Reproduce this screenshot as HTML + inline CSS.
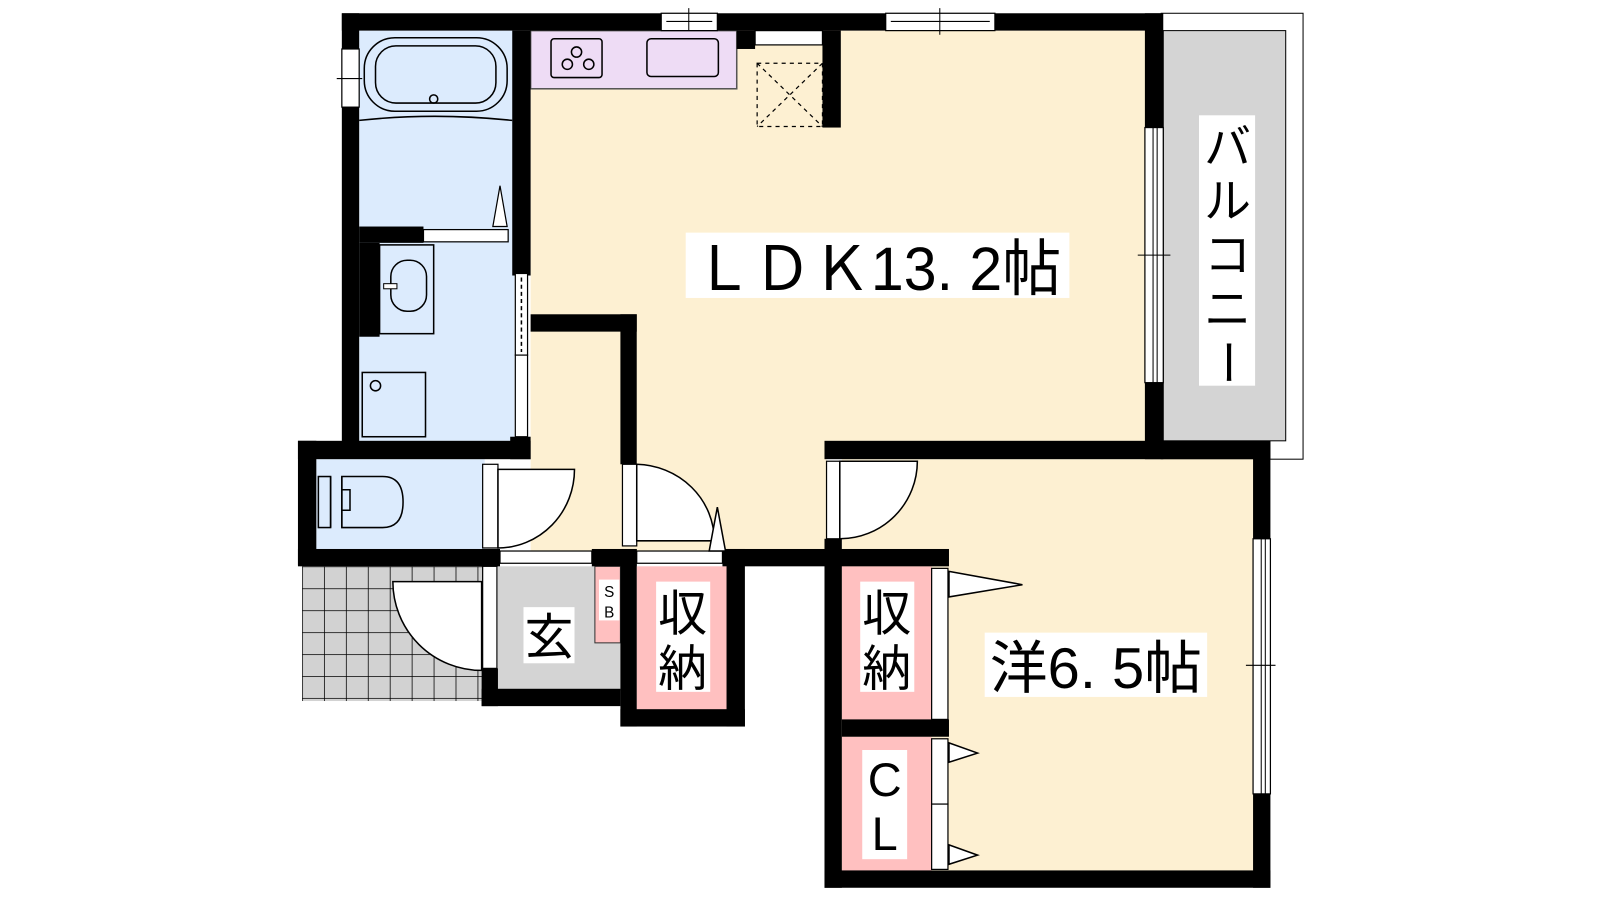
<!DOCTYPE html>
<html><head><meta charset="utf-8"><style>html,body{margin:0;padding:0;background:#fff;width:1600px;height:900px;overflow:hidden}svg{display:block}text{font-family:"Liberation Sans","Noto Sans CJK JP",sans-serif;fill:#000}</style></head><body>
<svg width="1600" height="900" viewBox="0 0 1568 882" xmlns="http://www.w3.org/2000/svg">
<defs><pattern id="tile" x="296" y="555" width="21.5" height="21.5" patternUnits="userSpaceOnUse"><rect width="21.5" height="21.5" fill="#d2d2d2"/><path d="M0 0H21.5M0 0V21.5" stroke="#000" stroke-width="1.5"/></pattern></defs>
<rect x="1138" y="13" width="139" height="437" fill="#fff" stroke="#000" stroke-width="1"/>
<rect x="1140" y="30" width="120" height="402" fill="#d4d4d4" stroke="#000" stroke-width="1"/>
<rect x="520" y="30" width="605" height="405" fill="#fdf0d2"/>
<rect x="520" y="320" width="92" height="222" fill="#fdf0d2"/>
<rect x="610" y="430" width="200" height="112" fill="#fdf0d2"/>
<rect x="825" y="450" width="405" height="405" fill="#fdf0d2"/>
<rect x="352" y="30" width="152" height="405" fill="#dcebfd"/>
<rect x="310" y="450" width="165" height="90" fill="#dcebfd"/>
<rect x="520" y="30" width="202" height="57" fill="#eedcf5" stroke="#555" stroke-width="1.5"/>
<rect x="540" y="38" width="50" height="38" rx="3" fill="none" stroke="#000" stroke-width="1.5"/>
<circle cx="565" cy="51" r="5" fill="none" stroke="#000" stroke-width="1.5"/><circle cx="556" cy="63" r="5" fill="none" stroke="#000" stroke-width="1.5"/><circle cx="577" cy="63" r="5" fill="none" stroke="#000" stroke-width="1.5"/>
<rect x="634" y="38" width="70" height="37" rx="4" fill="none" stroke="#000" stroke-width="1.5"/>
<rect x="742" y="62" width="64" height="62" fill="none" stroke="#000" stroke-width="1.2" stroke-dasharray="4 4"/>
<path d="M742 62L806 124M806 62L742 124" stroke="#000" stroke-width="1.2" stroke-dasharray="4 4"/>
<rect x="296" y="555" width="178" height="132" fill="url(#tile)"/>
<rect x="488" y="555" width="122" height="122" fill="#d4d4d4"/>
<rect x="583" y="555" width="25" height="75" fill="#ffc0c0" stroke="#333" stroke-width="1"/>
<rect x="624" y="555" width="90" height="142" fill="#ffc0c0"/>
<rect x="825" y="555" width="88" height="152" fill="#ffc0c0"/>
<rect x="825" y="722" width="88" height="133" fill="#ffc0c0"/>
<rect x="357" y="37" width="140" height="72" rx="30" fill="none" stroke="#000" stroke-width="1.5"/>
<rect x="368" y="45" width="118" height="56" rx="20" fill="none" stroke="#000" stroke-width="1.5"/>
<circle cx="425" cy="97" r="4" fill="none" stroke="#000" stroke-width="1.5"/>
<path d="M352 118Q425 110 502 118" fill="none" stroke="#000" stroke-width="1.5"/>
<path d="M483 222L490 182L497 222Z" fill="#fff" stroke="#000" stroke-width="1.2"/>
<rect x="372" y="240" width="53" height="87" fill="none" stroke="#000" stroke-width="1.5"/>
<rect x="383" y="255" width="35" height="50" rx="16" fill="none" stroke="#000" stroke-width="1.5"/>
<rect x="376" y="278" width="13" height="5" fill="#fff" stroke="#000" stroke-width="1"/>
<rect x="355" y="365" width="62" height="63" fill="none" stroke="#000" stroke-width="1.5"/>
<circle cx="368" cy="378" r="5" fill="none" stroke="#000" stroke-width="1.5"/>
<path d="M335 467H375Q395 467 395 492Q395 517 375 517H335Z" fill="none" stroke="#000" stroke-width="1.5"/>
<rect x="312" y="467" width="12" height="50" fill="none" stroke="#000" stroke-width="1.5"/>
<path d="M324 467V517M335 467V517M335 480H343V500H335" fill="none" stroke="#000" stroke-width="1.5"/>
<g fill="#000">
<rect x="335" y="13" width="803" height="17"/>
<rect x="335" y="13" width="17" height="420"/>
<rect x="502" y="30" width="18" height="240"/>
<rect x="352" y="222" width="63" height="16"/>
<rect x="352" y="238" width="20" height="92"/>
<rect x="500" y="428" width="20" height="22"/>
<rect x="292" y="432" width="228" height="18"/>
<rect x="292" y="432" width="18" height="122"/>
<rect x="292" y="538" width="198" height="17"/>
<rect x="520" y="308" width="104" height="17"/>
<rect x="608" y="308" width="16" height="147"/>
<rect x="580" y="538" width="44" height="17"/>
<rect x="608" y="538" width="16" height="174"/>
<rect x="712" y="538" width="18" height="174"/>
<rect x="608" y="695" width="122" height="17"/>
<rect x="708" y="538" width="222" height="17"/>
<rect x="472" y="538" width="16" height="17"/>
<rect x="472" y="655" width="16" height="37"/>
<rect x="472" y="675" width="136" height="17"/>
<rect x="722" y="30" width="18" height="18"/>
<rect x="806" y="30" width="18" height="95"/>
<rect x="1122" y="13" width="18" height="112"/>
<rect x="1122" y="375" width="18" height="75"/>
<rect x="808" y="432" width="437" height="18"/>
<rect x="808" y="528" width="17" height="342"/>
<rect x="1228" y="432" width="17" height="96"/>
<rect x="1228" y="778" width="17" height="92"/>
<rect x="808" y="853" width="437" height="17"/>
<rect x="825" y="705" width="105" height="17"/>
</g>
<g fill="#fff" stroke="#000" stroke-width="1.2">
<rect x="648" y="13" width="55" height="17"/><rect x="868" y="13" width="107" height="17"/>
<rect x="740" y="30" width="66" height="14"/>
<rect x="335" y="48" width="17" height="57"/>
<rect x="1122" y="125" width="18" height="250"/>
<rect x="1228" y="528" width="17" height="250"/>
<rect x="415" y="225" width="83" height="12"/>
<rect x="505" y="268" width="12" height="80"/><rect x="505" y="348" width="12" height="80"/>
<rect x="473" y="455" width="15" height="82"/>
<rect x="490" y="540" width="90" height="12"/>
<rect x="624" y="540" width="84" height="12"/>
<rect x="610" y="455" width="14" height="80"/>
<rect x="473" y="555" width="14" height="100"/>
<rect x="810" y="452" width="13" height="76"/>
<rect x="913" y="557" width="16" height="148"/>
<rect x="913" y="724" width="16" height="64"/><rect x="913" y="788" width="16" height="64"/>
</g>
<path d="M511 272V345" stroke="#000" stroke-width="1.5" stroke-dasharray="4 3"/>
<path d="M1130 125V375M1134 125V375M1236 528V778M1240 528V778M653 21H698M873 21H970" stroke="#000" stroke-width="1"/>
<path d="M675 8V30M921 8V34M1115 250H1147M1221 652H1250M330 77H355" stroke="#000" stroke-width="1"/>
<g fill="#fff" stroke="#000" stroke-width="1.5">
<path d="M488 537V460H563A75 77 0 0 1 488 537Z"/>
<path d="M624 530V455A78 75 0 0 1 700 530Z"/>
<path d="M472 570H385A87 87 0 0 0 472 657Z"/>
<path d="M823 528V452H899A76 76 0 0 1 823 528Z"/>
<path d="M695 540L703 497L711 540Z"/>
<path d="M930 560L1002 573L930 585Z"/>
<path d="M930 728L958 738L930 747Z"/>
<path d="M930 828L958 838L930 847Z"/>
</g>
<rect x="672" y="228" width="376" height="64" fill="#fff"/>
<text x="860" y="284" font-size="60" text-anchor="middle" textLength="360" lengthAdjust="spacingAndGlyphs">ＬＤＫ13. 2帖</text>
<rect x="1175" y="113" width="55" height="265" fill="#fff"/>
<g font-size="46" text-anchor="middle"><text x="1203" y="160">バ</text><text x="1203" y="213">ル</text><text x="1203" y="266">コ</text><text x="1203" y="319">ニ</text><text x="1203" y="355" transform="rotate(90 1203 355)" dy="16">ー</text></g>
<rect x="965" y="620" width="218" height="63" fill="#fff"/>
<text x="1074" y="674" font-size="56" text-anchor="middle" textLength="208" lengthAdjust="spacingAndGlyphs">洋6. 5帖</text>
<rect x="513" y="595" width="50" height="55" fill="#fff"/>
<text x="538" y="641" font-size="48" text-anchor="middle">玄</text>
<rect x="587" y="568" width="20" height="40" fill="#fff"/>
<text x="597" y="585" font-size="15" text-anchor="middle">S</text><text x="597" y="605" font-size="15" text-anchor="middle">B</text>
<rect x="643" y="570" width="53" height="108" fill="#fff"/>
<text x="669" y="618" font-size="48" text-anchor="middle">収</text><text x="669" y="672" font-size="48" text-anchor="middle">納</text>
<rect x="843" y="570" width="53" height="108" fill="#fff"/>
<text x="869" y="618" font-size="48" text-anchor="middle">収</text><text x="869" y="672" font-size="48" text-anchor="middle">納</text>
<rect x="845" y="735" width="44" height="107" fill="#fff"/>
<text x="867" y="780" font-size="46" text-anchor="middle">C</text><text x="867" y="833" font-size="46" text-anchor="middle">L</text>
</svg>
</body></html>
